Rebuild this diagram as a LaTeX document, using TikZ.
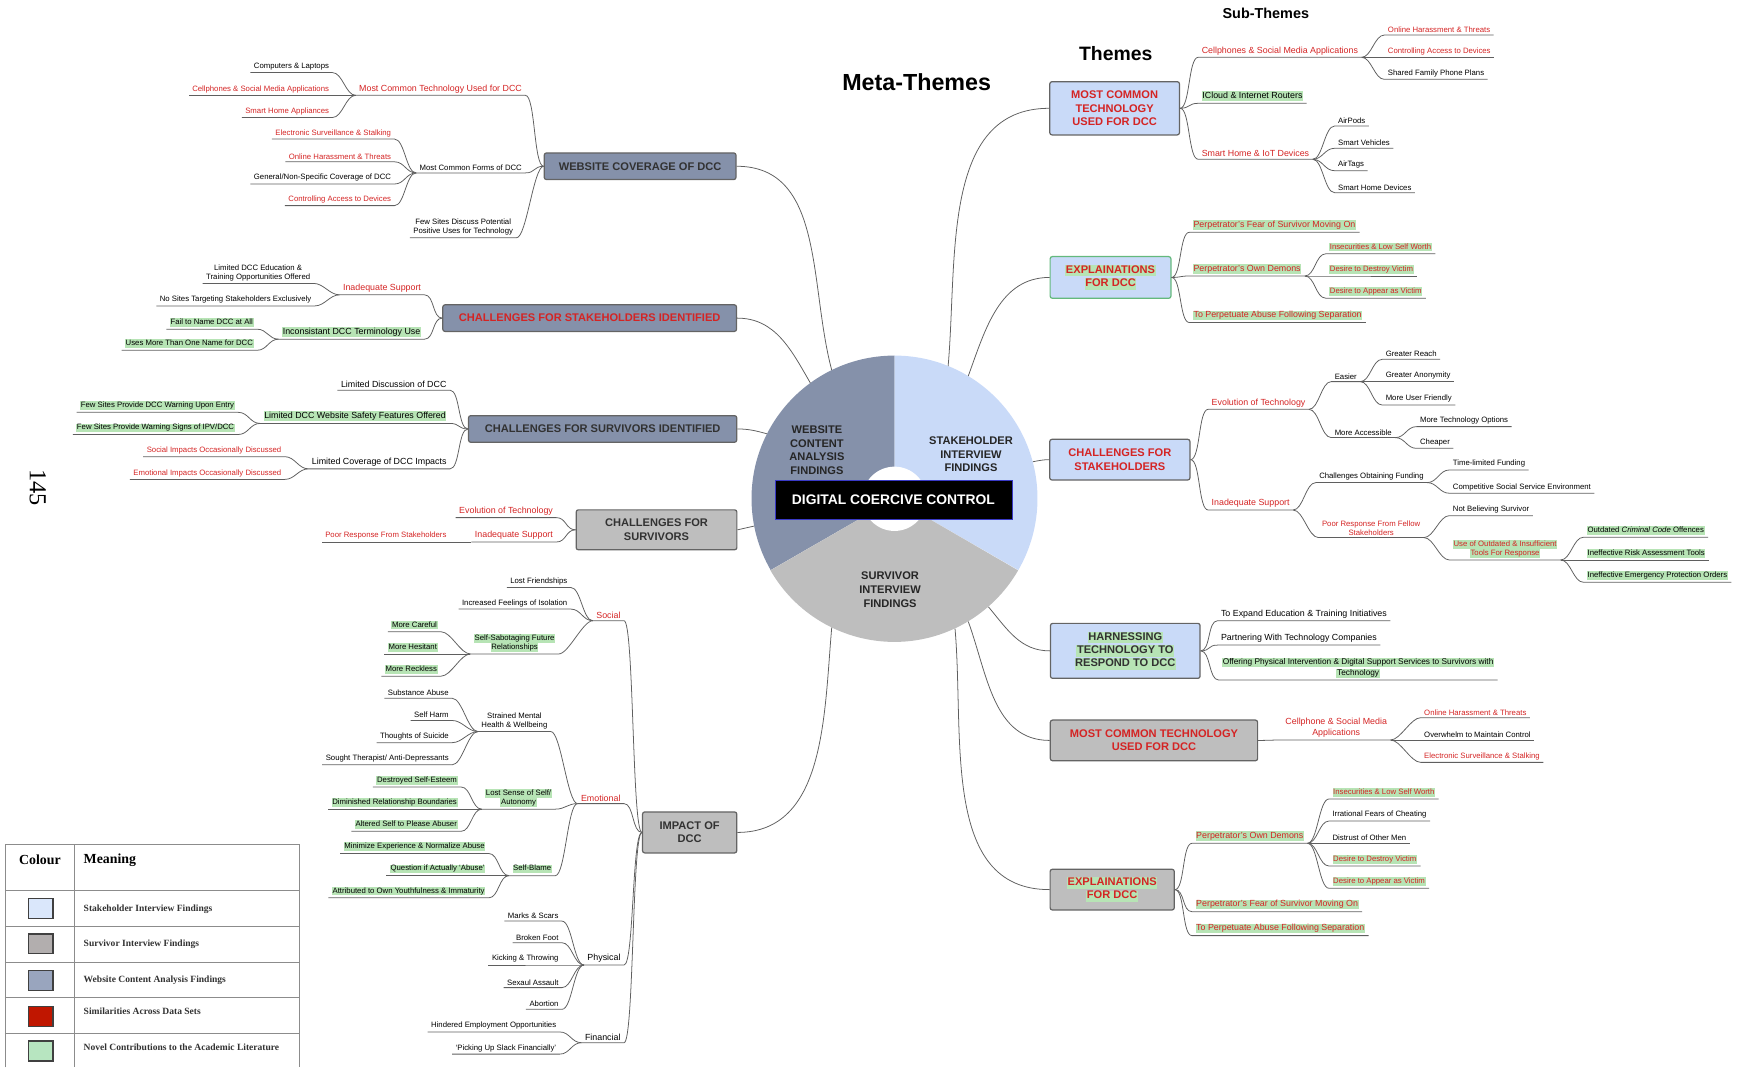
\documentclass[tikz,border=0pt]{standalone}
\usepackage{fontspec}
\setmainfont{Liberation Sans}
\newfontfamily\legendfont{Liberation Serif}

\definecolor{webblue}{RGB}{133,145,170}
\definecolor{stakeblue}{RGB}{201,218,248}
\definecolor{survgray}{RGB}{190,190,190}
\definecolor{simred}{RGB}{212,36,36}
\definecolor{novel}{RGB}{183,228,181}
\definecolor{novelline}{RGB}{100,185,125}
\definecolor{boxline}{RGB}{100,100,100}
\definecolor{twigline}{RGB}{95,95,95}
\definecolor{darktxt}{RGB}{50,50,50}
\definecolor{legstake}{RGB}{218,231,251}
\definecolor{legsurv}{RGB}{178,174,174}
\definecolor{legweb}{RGB}{153,165,190}
\definecolor{legred}{RGB}{192,22,0}
\definecolor{legnovel}{RGB}{183,229,192}

\newcommand{\grn}[1]{{\setlength{\fboxsep}{0.6pt}\colorbox{novel}{\vphantom{Ag}#1}}}

\begin{document}
\begin{tikzpicture}[x=1pt, y=-1pt,
  theme/.style={draw=boxline, line width=1.1pt, rounded corners=2pt, align=center, inner sep=2pt, text=darktxt, font=\bfseries\fontsize{10}{12}\selectfont},
  leaf/.style={inner xsep=3pt, inner ysep=2pt, align=center, font=\fontsize{7}{8}\selectfont},
  sub/.style={leaf, font=\fontsize{8}{10}\selectfont},
  hot/.style={text=simred},
  twig/.style={draw=twigline, line width=0.7pt},
  toL/.style={out=180, in=0, distance=9pt},
  toR/.style={out=0, in=180, distance=9pt},
  sector/.style={align=center, text=black!85, font=\bfseries\fontsize{10}{12.3}\selectfont},
  tabline/.style={draw=black!45, line width=0.8pt},
  swatch/.style={draw=black!75, line width=1.2pt, minimum width=22pt, minimum height=18pt, inner sep=0pt},
  legendrow/.style={anchor=west, text=darktxt, font=\legendfont\bfseries\fontsize{8.6}{9.5}\selectfont}]
\useasboundingbox (0,0) rectangle (1568,963);

% hub
\node[circle, minimum size=258pt, inner sep=0pt] (hub) at (807,450) {};
\fill[webblue] (hub.center) -- (hub.90) arc[start angle=90, end angle=210, radius=129pt] -- cycle;
\fill[stakeblue] (hub.center) -- (hub.90) arc[start angle=90, end angle=-30, radius=129pt] -- cycle;
\fill[survgray] (hub.center) -- (hub.210) arc[start angle=210, end angle=330, radius=129pt] -- cycle;
\fill[white] (hub.center) circle[radius=29pt];
\node[draw=blue!55!gray, fill=black, text=white, font=\bfseries\fontsize{12.5}{14}\selectfont, minimum width=214pt, minimum height=35pt, inner sep=0pt] (dcc) at (806,450.5) {DIGITAL COERCIVE CONTROL};
\node[sector] (webf) at (737,406) {WEBSITE\\CONTENT\\ANALYSIS\\FINDINGS};
\node[sector] (stakef) at (876,410) {STAKEHOLDER\\INTERVIEW\\FINDINGS};
\node[sector] (survf) at (803,532) {SURVIVOR\\INTERVIEW\\FINDINGS};

\node[font=\bfseries\fontsize{21}{24}\selectfont] (meta) at (827,74) {Meta-Themes};
\node[font=\bfseries\fontsize{17.5}{20}\selectfont] (themes) at (1006.6,48.5) {Themes};
\node[font=\bfseries\fontsize{13}{15}\selectfont] (subthemes) at (1142,12) {Sub-Themes};

% website coverage
\node[theme, fill=webblue, minimum width=173pt, minimum height=24pt] (W1) at (577.5,150) {WEBSITE COVERAGE OF DCC};
\node[sub, hot, anchor=south east] (W1a) at (474,86) {Most Common Technology Used for DCC};
\node[leaf, anchor=south east] (W1a1) at (300,65.5) {Computers \& Laptops};
\node[leaf, hot, anchor=south east] (W1a2) at (300,86) {Cellphones \& Social Media Applications};
\node[leaf, hot, anchor=south east] (W1a3) at (300,106) {Smart Home Appliances};
\node[leaf, anchor=south east] (W1b) at (474,156) {Most Common Forms of DCC};
\node[leaf, hot, anchor=south east] (W1b1) at (356,125.5) {Electronic Surveillance \& Stalking};
\node[leaf, hot, anchor=south east] (W1b2) at (356,146) {Online Harassment \& Threats};
\node[leaf, anchor=south east] (W1b3) at (356,166) {General/Non-Specific Coverage of DCC};
\node[leaf, hot, anchor=south east] (W1b4) at (356,185.5) {Controlling Access to Devices};
\node[leaf, anchor=south east] (W1c) at (466,214.5) {Few Sites Discuss Potential\\Positive Uses for Technology};

\draw[twig] (W1.west) to[toL] (W1a.south east) -- (W1a.south west);
\draw[twig] (W1a.south west) to[toL] (W1a1.south east) -- (W1a1.south west);
\draw[twig] (W1a.south west) to[toL] (W1a2.south east) -- (W1a2.south west);
\draw[twig] (W1a.south west) to[toL] (W1a3.south east) -- (W1a3.south west);
\draw[twig] (W1.west) to[toL] (W1b.south east) -- (W1b.south west);
\draw[twig] (W1b.south west) to[toL] (W1b1.south east) -- (W1b1.south west);
\draw[twig] (W1b.south west) to[toL] (W1b2.south east) -- (W1b2.south west);
\draw[twig] (W1b.south west) to[toL] (W1b3.south east) -- (W1b3.south west);
\draw[twig] (W1b.south west) to[toL] (W1b4.south east) -- (W1b4.south west);
\draw[twig] (W1.west) to[toL] (W1c.south east) -- (W1c.south west);

% challenges for stakeholders identified
\node[theme, fill=webblue, text=simred, minimum width=265pt, minimum height=24pt] (W2) at (532,287) {CHALLENGES FOR STAKEHOLDERS IDENTIFIED};
\node[sub, hot, anchor=south east] (W2a) at (383,266) {Inadequate Support};
\node[leaf, anchor=south east] (W2a1) at (283,255.7) {Limited DCC Education \&\\Training Opportunities Offered};
\node[leaf, anchor=south east] (W2a2) at (284,276) {No Sites Targeting Stakeholders Exclusively};
\node[sub, anchor=south east] (W2b) at (383,306) {\grn{Inconsistant DCC Terminology Use}};
\node[leaf, anchor=south east] (W2b1) at (232,297) {\grn{Fail to Name DCC at All}};
\node[leaf, anchor=south east] (W2b2) at (232,316) {\grn{Uses More Than One Name for DCC}};

\draw[twig] (W2.west) to[toL] (W2a.south east) -- (W2a.south west);
\draw[twig] (W2a.south west) to[toL] (W2a1.south east) -- (W2a1.south west);
\draw[twig] (W2a.south west) to[toL] (W2a2.south east) -- (W2a2.south west);
\draw[twig] (W2.west) to[toL] (W2b.south east) -- (W2b.south west);
\draw[twig] (W2b.south west) to[toL] (W2b1.south east) -- (W2b1.south west);
\draw[twig] (W2b.south west) to[toL] (W2b2.south east) -- (W2b2.south west);

% challenges for survivors identified
\node[theme, fill=webblue, minimum width=242pt, minimum height=24pt] (W3) at (543.7,387) {CHALLENGES FOR SURVIVORS IDENTIFIED};
\node[sub, anchor=south east] (W3a) at (406,352) {Limited Discussion of DCC};
\node[sub, anchor=south east] (W3b) at (406,382) {\grn{Limited DCC Website Safety Features Offered}};
\node[leaf, anchor=south east] (W3b1) at (215,372) {\grn{Few Sites Provide DCC Warning Upon Entry}};
\node[leaf, anchor=south east] (W3b2) at (215,392) {\grn{Few Sites Provide Warning Signs of IPV/DCC}};
\node[sub, anchor=south east] (W3c) at (406,423) {Limited Coverage of DCC Impacts};
\node[leaf, hot, anchor=south east] (W3c1) at (257,412) {Social Impacts Occasionally Discussed};
\node[leaf, hot, anchor=south east] (W3c2) at (257,432.5) {Emotional Impacts Occasionally Discussed};

\draw[twig] (W3.west) to[toL] (W3a.south east) -- (W3a.south west);
\draw[twig] (W3.west) to[toL] (W3b.south east) -- (W3b.south west);
\draw[twig] (W3b.south west) to[toL] (W3b1.south east) -- (W3b1.south west);
\draw[twig] (W3b.south west) to[toL] (W3b2.south east) -- (W3b2.south west);
\draw[twig] (W3.west) to[toL] (W3c.south east) -- (W3c.south west);
\draw[twig] (W3c.south west) to[toL] (W3c1.south east) -- (W3c1.south west);
\draw[twig] (W3c.south west) to[toL] (W3c2.south east) -- (W3c2.south west);

% challenges for survivors
\node[theme, fill=survgray, minimum width=145pt, minimum height=36pt] (S1) at (592.3,478) {CHALLENGES FOR\\SURVIVORS};
\node[sub, hot, anchor=south east] (S1a) at (502,467) {Evolution of Technology};
\node[sub, hot, anchor=south east] (S1b) at (502,489) {Inadequate Support};
\node[leaf, hot, anchor=south east] (S1b1) at (406,489) {Poor Response From Stakeholders};

\draw[twig] (S1.west) to[toL] (S1a.south east) -- (S1a.south west);
\draw[twig] (S1.west) to[toL] (S1b.south east) -- (S1b.south west);
\draw[twig] (S1b.south west) to[toL] (S1b1.south east) -- (S1b1.south west);

% impact of dcc
\node[theme, fill=survgray, minimum width=85pt, minimum height=37pt] (S2) at (622.2,751) {IMPACT OF\\DCC};
\node[sub, hot, anchor=south east] (S2a) at (563,560) {Social};
\node[leaf, anchor=south east] (S2a1) at (515,530) {Lost Friendships};
\node[leaf, anchor=south east] (S2a2) at (515,549.5) {Increased Feelings of Isolation};
\node[leaf, anchor=south east] (S2a3) at (504,590) {\grn{Self-Sabotaging Future}\\\grn{Relationships}};
\node[leaf, anchor=south east] (S2a31) at (398,570) {\grn{More Careful}};
\node[leaf, anchor=south east] (S2a32) at (398,590) {\grn{More Hesitant}};
\node[leaf, anchor=south east] (S2a33) at (398,610) {\grn{More Reckless}};
\node[sub, hot, anchor=south east] (S2b) at (563,725) {Emotional};
\node[leaf, anchor=south east] (S2b1) at (497,660) {Strained Mental\\Health \& Wellbeing};
\node[leaf, anchor=south east] (S2b11) at (408,630) {Substance Abuse};
\node[leaf, anchor=south east] (S2b12) at (408,650) {Self Harm};
\node[leaf, anchor=south east] (S2b13) at (408,670) {Thoughts of Suicide};
\node[leaf, anchor=south east] (S2b14) at (408,690) {Sought Therapist/ Anti-Depressants};
\node[leaf, anchor=south east] (S2b2) at (501,730) {\grn{Lost Sense of Self/}\\\grn{Autonomy}};
\node[leaf, anchor=south east] (S2b21) at (416,710) {\grn{Destroyed Self-Esteem}};
\node[leaf, anchor=south east] (S2b22) at (416,730) {\grn{Diminished Relationship Boundaries}};
\node[leaf, anchor=south east] (S2b23) at (416,750) {\grn{Altered Self to Please Abuser}};
\node[leaf, anchor=south east] (S2b3) at (501,790) {\grn{Self-Blame}};
\node[leaf, anchor=south east] (S2b31) at (441,770) {\grn{Minimize Experience \& Normalize Abuse}};
\node[leaf, anchor=south east] (S2b32) at (441,790) {\grn{Question if Actually `Abuse'}};
\node[leaf, anchor=south east] (S2b33) at (441,810) {\grn{Attributed to Own Youthfulness \& Immaturity}};
\node[sub, anchor=south east] (S2c) at (563,870.6) {Physical};
\node[leaf, anchor=south east] (S2c1) at (507,831) {Marks \& Scars};
\node[leaf, anchor=south east] (S2c2) at (507,850.5) {Broken Foot};
\node[leaf, anchor=south east] (S2c3) at (507,870.6) {Kicking \& Throwing};
\node[leaf, anchor=south east] (S2c4) at (507,891) {Sexaul Assault};
\node[leaf, anchor=south east] (S2c5) at (507,910.6) {Abortion};
\node[sub, anchor=south east] (S2d) at (563,940.7) {Financial};
\node[leaf, anchor=south east] (S2d1) at (505,931) {Hindered Employment Opportunities};
\node[leaf, anchor=south east] (S2d2) at (505,951) {`Picking Up Slack Financially'};

\draw[twig] (S2.west) to[toL] (S2a.south east) -- (S2a.south west);
\draw[twig] (S2a.south west) to[toL] (S2a1.south east) -- (S2a1.south west);
\draw[twig] (S2a.south west) to[toL] (S2a2.south east) -- (S2a2.south west);
\draw[twig] (S2a.south west) to[toL] (S2a3.south east) -- (S2a3.south west);
\draw[twig] (S2a3.south west) to[toL] (S2a31.south east) -- (S2a31.south west);
\draw[twig] (S2a3.south west) to[toL] (S2a32.south east) -- (S2a32.south west);
\draw[twig] (S2a3.south west) to[toL] (S2a33.south east) -- (S2a33.south west);
\draw[twig] (S2.west) to[toL] (S2b.south east) -- (S2b.south west);
\draw[twig] (S2b.south west) to[toL] (S2b1.south east) -- (S2b1.south west);
\draw[twig] (S2b1.south west) to[toL] (S2b11.south east) -- (S2b11.south west);
\draw[twig] (S2b1.south west) to[toL] (S2b12.south east) -- (S2b12.south west);
\draw[twig] (S2b1.south west) to[toL] (S2b13.south east) -- (S2b13.south west);
\draw[twig] (S2b1.south west) to[toL] (S2b14.south east) -- (S2b14.south west);
\draw[twig] (S2b.south west) to[toL] (S2b2.south east) -- (S2b2.south west);
\draw[twig] (S2b2.south west) to[toL] (S2b21.south east) -- (S2b21.south west);
\draw[twig] (S2b2.south west) to[toL] (S2b22.south east) -- (S2b22.south west);
\draw[twig] (S2b2.south west) to[toL] (S2b23.south east) -- (S2b23.south west);
\draw[twig] (S2b.south west) to[toL] (S2b3.south east) -- (S2b3.south west);
\draw[twig] (S2b3.south west) to[toL] (S2b31.south east) -- (S2b31.south west);
\draw[twig] (S2b3.south west) to[toL] (S2b32.south east) -- (S2b32.south west);
\draw[twig] (S2b3.south west) to[toL] (S2b33.south east) -- (S2b33.south west);
\draw[twig] (S2.west) to[toL] (S2c.south east) -- (S2c.south west);
\draw[twig] (S2c.south west) to[toL] (S2c1.south east) -- (S2c1.south west);
\draw[twig] (S2c.south west) to[toL] (S2c2.south east) -- (S2c2.south west);
\draw[twig] (S2c.south west) to[toL] (S2c3.south east) -- (S2c3.south west);
\draw[twig] (S2c.south west) to[toL] (S2c4.south east) -- (S2c4.south west);
\draw[twig] (S2c.south west) to[toL] (S2c5.south east) -- (S2c5.south west);
\draw[twig] (S2.west) to[toL] (S2d.south east) -- (S2d.south west);
\draw[twig] (S2d.south west) to[toL] (S2d1.south east) -- (S2d1.south west);
\draw[twig] (S2d.south west) to[toL] (S2d2.south east) -- (S2d2.south west);

% most common technology (stakeholders)
\node[theme, fill=stakeblue, text=simred, minimum width=117pt, minimum height=48pt] (K1) at (1005.6,97.7) {MOST COMMON\\TECHNOLOGY\\USED FOR DCC};
\node[sub, hot, anchor=south west] (K1a) at (1081,51.7) {Cellphones \& Social Media Applications};
\node[leaf, hot, anchor=south west] (K1a1) at (1249,31.6) {Online Harassment \& Threats};
\node[leaf, hot, anchor=south west] (K1a2) at (1249,51.7) {Controlling Access to Devices};
\node[leaf, anchor=south west] (K1a3) at (1249,71.6) {Shared Family Phone Plans};
\node[sub, anchor=south west] (K1b) at (1081,93.2) {\grn{ICloud \& Internet Routers}};
\node[sub, hot, anchor=south west] (K1c) at (1081,143.7) {Smart Home \& IoT Devices};
\node[leaf, anchor=south west] (K1c1) at (1204,113.7) {AirPods};
\node[leaf, anchor=south west] (K1c2) at (1204,133.8) {Smart Vehicles};
\node[leaf, anchor=south west] (K1c3) at (1204,154) {AirTags};
\node[leaf, anchor=south west] (K1c4) at (1204,173.8) {Smart Home Devices};

\draw[twig] (K1.east) to[toR] (K1a.south west) -- (K1a.south east);
\draw[twig] (K1a.south east) to[toR] (K1a1.south west) -- (K1a1.south east);
\draw[twig] (K1a.south east) to[toR] (K1a2.south west) -- (K1a2.south east);
\draw[twig] (K1a.south east) to[toR] (K1a3.south west) -- (K1a3.south east);
\draw[twig] (K1.east) to[toR] (K1b.south west) -- (K1b.south east);
\draw[twig] (K1.east) to[toR] (K1c.south west) -- (K1c.south east);
\draw[twig] (K1c.south east) to[toR] (K1c1.south west) -- (K1c1.south east);
\draw[twig] (K1c.south east) to[toR] (K1c2.south west) -- (K1c2.south east);
\draw[twig] (K1c.south east) to[toR] (K1c3.south west) -- (K1c3.south east);
\draw[twig] (K1c.south east) to[toR] (K1c4.south west) -- (K1c4.south east);

% explainations (stakeholders)
\node[theme, fill=stakeblue, draw=novelline, text=simred, minimum width=109pt, minimum height=37.6pt] (K2) at (1001.9,250.3) {\grn{EXPLAINATIONS}\\\grn{FOR DCC}};
\node[sub, hot, anchor=south west] (K2a) at (1073,209.6) {\grn{Perpetrator's Fear of Survivor Moving On}};
\node[sub, hot, anchor=south west] (K2b) at (1073,249) {\grn{Perpetrator's Own Demons}};
\node[leaf, hot, anchor=south west] (K2b1) at (1196,229) {\grn{Insecurities \& Low Self Worth}};
\node[leaf, hot, anchor=south west] (K2b2) at (1196,249) {\grn{Desire to Destroy Victim}};
\node[leaf, hot, anchor=south west] (K2b3) at (1196,269) {\grn{Desire to Appear as Victim}};
\node[sub, hot, anchor=south west] (K2c) at (1073,291) {\grn{To Perpetuate Abuse Following Separation}};

\draw[twig] (K2.east) to[toR] (K2a.south west) -- (K2a.south east);
\draw[twig] (K2.east) to[toR] (K2b.south west) -- (K2b.south east);
\draw[twig] (K2b.south east) to[toR] (K2b1.south west) -- (K2b1.south east);
\draw[twig] (K2b.south east) to[toR] (K2b2.south west) -- (K2b2.south east);
\draw[twig] (K2b.south east) to[toR] (K2b3.south west) -- (K2b3.south east);
\draw[twig] (K2.east) to[toR] (K2c.south west) -- (K2c.south east);

% challenges for stakeholders
\node[theme, fill=stakeblue, text=simred, minimum width=126.5pt, minimum height=36.7pt] (K3) at (1010.3,414.7) {CHALLENGES FOR\\STAKEHOLDERS};
\node[sub, hot, anchor=south west] (K3a) at (1090,369.3) {Evolution of Technology};
\node[leaf, anchor=south west] (K3a1) at (1201,344.3) {Easier};
\node[leaf, anchor=south west] (K3a11) at (1247,324.2) {Greater Reach};
\node[leaf, anchor=south west] (K3a12) at (1247,344.3) {Greater Anonymity};
\node[leaf, anchor=south west] (K3a13) at (1247,365.4) {More User Friendly};
\node[leaf, anchor=south west] (K3a2) at (1201,394.8) {More Accessible};
\node[leaf, anchor=south west] (K3a21) at (1278,384.9) {More Technology Options};
\node[leaf, anchor=south west] (K3a22) at (1278,404.5) {Cheaper};
\node[sub, hot, anchor=south west] (K3b) at (1090,460.1) {Inadequate Support};
\node[leaf, anchor=south west] (K3b1) at (1187,435.4) {Challenges Obtaining Funding};
\node[leaf, anchor=south west] (K3b11) at (1307.6,424) {Time-limited Funding};
\node[leaf, anchor=south west] (K3b12) at (1307.6,445) {Competitive Social Service Environment};
\node[leaf, hot, anchor=south west] (K3b2) at (1189.5,485) {Poor Response From Fellow\\Stakeholders};
\node[leaf, anchor=south west] (K3b21) at (1307.6,465.2) {Not Believing Survivor};
\node[leaf, hot, anchor=south west] (K3b22) at (1307.6,505.2) {\grn{Use of Outdated \& Insufficient}\\\grn{Tools For Response}};
\node[leaf, anchor=south west] (K3b221) at (1428.5,484.7) {\grn{Outdated \textit{Criminal Code} Offences}};
\node[leaf, anchor=south west] (K3b222) at (1428.5,505.2) {\grn{Ineffective Risk Assessment Tools}};
\node[leaf, anchor=south west] (K3b223) at (1428.5,525.3) {\grn{Ineffective Emergency Protection Orders}};

\draw[twig] (K3.east) to[toR] (K3a.south west) -- (K3a.south east);
\draw[twig] (K3a.south east) to[toR] (K3a1.south west) -- (K3a1.south east);
\draw[twig] (K3a1.south east) to[toR] (K3a11.south west) -- (K3a11.south east);
\draw[twig] (K3a1.south east) to[toR] (K3a12.south west) -- (K3a12.south east);
\draw[twig] (K3a1.south east) to[toR] (K3a13.south west) -- (K3a13.south east);
\draw[twig] (K3a.south east) to[toR] (K3a2.south west) -- (K3a2.south east);
\draw[twig] (K3a2.south east) to[toR] (K3a21.south west) -- (K3a21.south east);
\draw[twig] (K3a2.south east) to[toR] (K3a22.south west) -- (K3a22.south east);
\draw[twig] (K3.east) to[toR] (K3b.south west) -- (K3b.south east);
\draw[twig] (K3b.south east) to[toR] (K3b1.south west) -- (K3b1.south east);
\draw[twig] (K3b1.south east) to[toR] (K3b11.south west) -- (K3b11.south east);
\draw[twig] (K3b1.south east) to[toR] (K3b12.south west) -- (K3b12.south east);
\draw[twig] (K3b.south east) to[toR] (K3b2.south west) -- (K3b2.south east);
\draw[twig] (K3b2.south east) to[toR] (K3b21.south west) -- (K3b21.south east);
\draw[twig] (K3b2.south east) to[toR] (K3b22.south west) -- (K3b22.south east);
\draw[twig] (K3b22.south east) to[toR] (K3b221.south west) -- (K3b221.south east);
\draw[twig] (K3b22.south east) to[toR] (K3b222.south west) -- (K3b222.south east);
\draw[twig] (K3b22.south east) to[toR] (K3b223.south west) -- (K3b223.south east);

% harnessing technology
\node[theme, fill=stakeblue, minimum width=135pt, minimum height=49.6pt] (K4) at (1015.2,587.2) {\grn{HARNESSING}\\\grn{TECHNOLOGY TO}\\\grn{RESPOND TO DCC}};
\node[sub, anchor=south west] (K4a) at (1098.4,560) {To Expand Education \& Training Initiatives};
\node[sub, anchor=south west] (K4b) at (1098.4,582) {Partnering With Technology Companies};
\node[leaf, font=\fontsize{7.5}{9.5}\selectfont, anchor=south west] (K4c) at (1099.4,613.5) {\grn{Offering Physical Intervention \& Digital Support Services to Survivors with}\\\grn{Technology}};

\draw[twig] (K4.east) to[toR] (K4a.south west) -- (K4a.south east);
\draw[twig] (K4.east) to[toR] (K4b.south west) -- (K4b.south east);
\draw[twig] (K4.east) to[toR] (K4c.south west) -- (K4c.south east);

% most common technology (survivors)
\node[theme, fill=survgray, text=simred, minimum width=187pt, minimum height=36.7pt] (K5) at (1041.1,668) {MOST COMMON TECHNOLOGY\\USED FOR DCC};
\node[sub, hot, anchor=south west] (K5a) at (1156.5,667.6) {Cellphone \& Social Media\\Applications};
\node[leaf, hot, anchor=south west] (K5a1) at (1281.7,647.5) {Online Harassment \& Threats};
\node[leaf, anchor=south west] (K5a2) at (1281.7,667.6) {Overwhelm to Maintain Control};
\node[leaf, hot, anchor=south west] (K5a3) at (1281.7,687.8) {Electronic Surveillance \& Stalking};

\draw[twig] (K5.east) to[toR] (K5a.south west) -- (K5a.south east);
\draw[twig] (K5a.south east) to[toR] (K5a1.south west) -- (K5a1.south east);
\draw[twig] (K5a.south east) to[toR] (K5a2.south west) -- (K5a2.south east);
\draw[twig] (K5a.south east) to[toR] (K5a3.south west) -- (K5a3.south east);

% explainations (survivors)
\node[theme, fill=survgray, text=simred, minimum width=112pt, minimum height=36.7pt] (K6) at (1003.4,802.6) {\grn{EXPLAINATIONS}\\\grn{FOR DCC}};
\node[sub, hot, anchor=south west] (K6a) at (1075.4,760.8) {\grn{Perpetrator's Own Demons}};
\node[leaf, hot, anchor=south west] (K6a1) at (1199,720.8) {\grn{Insecurities \& Low Self Worth}};
\node[leaf, anchor=south west] (K6a2) at (1199,740.7) {Irrational Fears of Cheating};
\node[leaf, anchor=south west] (K6a3) at (1199,760.8) {Distrust of Other Men};
\node[leaf, hot, anchor=south west] (K6a4) at (1199,781.3) {\grn{Desire to Destroy Victim}};
\node[leaf, hot, anchor=south west] (K6a5) at (1199,801.4) {\grn{Desire to Appear as Victim}};
\node[sub, hot, anchor=south west] (K6b) at (1075.4,822.5) {\grn{Perpetrator's Fear of Survivor Moving On}};
\node[sub, hot, anchor=south west] (K6c) at (1075.4,844.1) {\grn{To Perpetuate Abuse Following Separation}};

\draw[twig] (K6.east) to[toR] (K6a.south west) -- (K6a.south east);
\draw[twig] (K6a.south east) to[toR] (K6a1.south west) -- (K6a1.south east);
\draw[twig] (K6a.south east) to[toR] (K6a2.south west) -- (K6a2.south east);
\draw[twig] (K6a.south east) to[toR] (K6a3.south west) -- (K6a3.south east);
\draw[twig] (K6a.south east) to[toR] (K6a4.south west) -- (K6a4.south east);
\draw[twig] (K6a.south east) to[toR] (K6a5.south west) -- (K6a5.south east);
\draw[twig] (K6.east) to[toR] (K6b.south west) -- (K6b.south east);
\draw[twig] (K6.east) to[toR] (K6c.south west) -- (K6c.south east);

% themes to hub
\draw[twig] (W1.east) to[out=0, in=105] (hub.116);
\draw[twig] (W2.east) to[out=0, in=120] (hub.126);
\draw[twig] (W3.east) to[out=0, in=165] (hub.153);
\draw[twig] (S1.east) -- (hub.191);
\draw[twig] (S2.east) to[out=0, in=265] (hub.244);
\draw[twig] (hub.68) to[out=85, in=180] (K1.west);
\draw[twig] (hub.59) to[out=70, in=180] (K2.west);
\draw[twig] (hub.15) to[out=10, in=180] (K3.west);
\draw[twig] (hub.311) to[out=-50, in=180] (K4.west);
\draw[twig] (hub.301) to[out=-70, in=180] (K5.west);
\draw[twig] (hub.295) to[out=-85, in=180] (K6.west);

% legend
\draw[tabline] (4.5,963) |- (270.6,761.5) -- (270.6,963);
\draw[tabline] (66.8,761.5) -- (66.8,963);
\draw[tabline] (4.5,803) -- (270.6,803);
\draw[tabline] (4.5,835.4) -- (270.6,835.4);
\draw[tabline] (4.5,868.5) -- (270.6,868.5);
\draw[tabline] (4.5,900.1) -- (270.6,900.1);
\draw[tabline] (4.5,932.2) -- (270.6,932.2);
\node[font=\legendfont\bfseries\fontsize{12.5}{14}\selectfont] (colhead) at (36,776) {Colour};
\node[anchor=west, font=\legendfont\bfseries\fontsize{12.5}{14}\selectfont] (meanhead) at (72,776) {Meaning};
\node[swatch, fill=legstake] (sw1) at (36.7,819.5) {};
\node[swatch, fill=legsurv] (sw2) at (36.7,851.5) {};
\node[swatch, fill=legweb] (sw3) at (36.7,884.4) {};
\node[swatch, fill=legred] (sw4) at (36.7,916.9) {};
\node[swatch, fill=legnovel] (sw5) at (36.7,948.3) {};
\node[legendrow] (row1) at (72,820) {Stakeholder Interview Findings};
\node[legendrow] (row2) at (72,852) {Survivor Interview Findings};
\node[legendrow] (row3) at (72,884.7) {Website Content Analysis Findings};
\node[legendrow] (row4) at (72,912.7) {Similarities Across Data Sets};
\node[legendrow] (row5) at (72,944.9) {Novel Contributions to the Academic Literature};

\node[rotate=-90, font=\legendfont\fontsize{22}{22}\selectfont] (pageno) at (34,440) {145};
\end{tikzpicture}
\end{document}
